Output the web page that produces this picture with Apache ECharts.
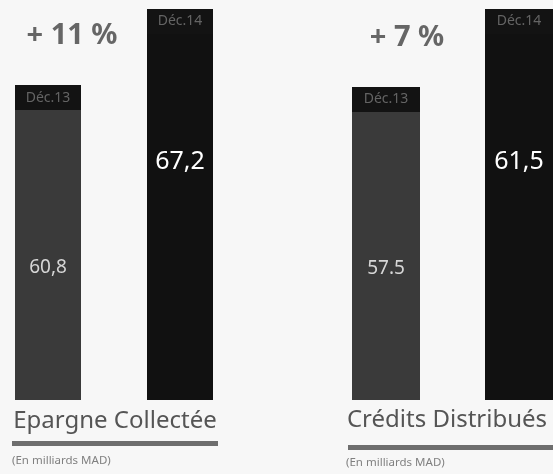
<!DOCTYPE html>
<html>
<head>
<meta charset="utf-8">
<script src="https://cdn.jsdelivr.net/npm/echarts@6/dist/echarts.min.js"></script>
<style>
html,body{margin:0;padding:0;background:#f7f7f7;}
#c{width:553px;height:474px;}
</style>
</head>
<body>
<div id="c"></div>
<script>
// ---- data ----
const periods = ['Déc.13', 'Déc.14'];
const groupNames = ['Epargne Collectée', 'Crédits Distribués'];
const epargneValues = [60.8, 67.2];
const creditsValues = [57.5, 61.5];
const epargneLabels = ['60,8', '67,2'];
const creditsLabels = ['57.5', '61,5'];
const growthLabels = ['+ 11 %', '+ 7 %'];
const unitLabel = '(En milliards MAD)';

// ---- styling ----
const FONT = 'Noto Sans';
const barColors = ['#3a3a3a', '#111111'];
const valueColors = ['#d6d6d6', '#ffffff'];
const valueSizes = [19, 25];
const valuePos = [['50%', '58%'], ['50%', '39%']];

function mainData(values, labels) {
  return values.map((v, i) => ({
    value: v,
    itemStyle: { color: barColors[i] },
    label: {
      show: true,
      position: valuePos[i],
      align: 'center',
      verticalAlign: 'middle',
      formatter: labels[i],
      color: valueColors[i],
      fontSize: valueSizes[i],
      fontFamily: FONT
    }
  }));
}

function headerSeries(values, idx, bw) {
  return {
    type: 'bar', xAxisIndex: idx, yAxisIndex: idx,
    data: values, barWidth: bw, barGap: '-100%',
    itemStyle: { color: 'rgba(0,0,0,0)' },
    silent: true,
    label: {
      show: true, position: 'insideTop', distance: 0,
      formatter: '{b}',
      backgroundColor: '#131313',
      width: bw, height: 25, lineHeight: 25,
      padding: 0, align: 'center',
      color: '#646464', fontSize: 14, fontFamily: FONT
    }
  };
}

const chart = echarts.init(document.getElementById('c'));
const axisOff = { show: false };
chart.setOption({
  backgroundColor: '#f7f7f7',
  animation: false,
  grid: [
    { left: -18, width: 264, top: 9, bottom: 74, outerBoundsMode: 'none' },
    { left: 319.5, width: 266, top: 9, bottom: 74, outerBoundsMode: 'none' }
  ],
  xAxis: [
    { type: 'category', gridIndex: 0, data: periods, show: false },
    { type: 'category', gridIndex: 1, data: periods, show: false }
  ],
  yAxis: [
    { type: 'value', gridIndex: 0, min: 34.3, max: 67.2, show: false, splitLine: axisOff },
    { type: 'value', gridIndex: 1, min: 41.45, max: 61.5, show: false, splitLine: axisOff }
  ],
  series: [
    { type: 'bar', xAxisIndex: 0, yAxisIndex: 0, barWidth: 66, data: mainData(epargneValues, epargneLabels) },
    headerSeries(epargneValues, 0, 66),
    { type: 'bar', xAxisIndex: 1, yAxisIndex: 1, barWidth: 68, data: mainData(creditsValues, creditsLabels) },
    headerSeries(creditsValues, 1, 68)
  ],
  graphic: [
    { type: 'text', x: 72, y: 36, style: { text: growthLabels[0], fill: '#666', font: 'bold 29px "' + FONT + '"', align: 'center', verticalAlign: 'middle' } },
    { type: 'text', x: 407, y: 38, style: { text: growthLabels[1], fill: '#666', font: 'bold 29px "' + FONT + '"', align: 'center', verticalAlign: 'middle' } },
    { type: 'text', x: 115, y: 421, style: { text: groupNames[0], fill: '#555', font: '24px "' + FONT + '"', align: 'center', verticalAlign: 'middle' } },
    { type: 'text', x: 447, y: 420, style: { text: groupNames[1], fill: '#555', font: '24px "' + FONT + '"', align: 'center', verticalAlign: 'middle' } },
    { type: 'rect', shape: { x: 12, y: 441, width: 206, height: 5 }, style: { fill: '#6e6e6e' } },
    { type: 'rect', shape: { x: 348, y: 445, width: 205, height: 5 }, style: { fill: '#6e6e6e' } },
    { type: 'text', x: 12, y: 461, style: { text: unitLabel, fill: '#808080', font: '11.5px "' + FONT + '"', verticalAlign: 'middle' } },
    { type: 'text', x: 346, y: 463, style: { text: unitLabel, fill: '#808080', font: '11.5px "' + FONT + '"', verticalAlign: 'middle' } }
  ]
});
</script>
</body>
</html>
